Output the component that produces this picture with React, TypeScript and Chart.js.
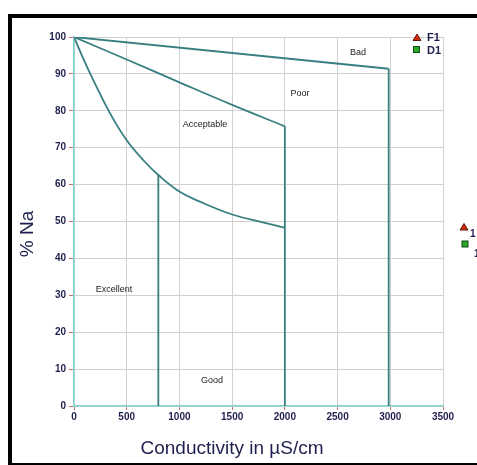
import React, { useEffect, useRef } from "react";
import { Chart, registerables } from "chart.js";

Chart.register(...registerables);

// Boundary curves (conductivity µS/cm vs % Na)
const lowerCurveX = [0, 90, 183, 342, 500, 658, 800, 1000, 1200, 1500, 1800, 2000];
const lowerCurveY = [100, 94, 88.3, 79.3, 72.0, 66.6, 62.6, 58.1, 55.3, 51.9, 49.7, 48.3];
const poorCurveX = [0, 500, 1000, 1500, 2000];
const poorCurveY = [100, 93.9, 87.7, 81.6, 75.8];
const badCurveX = [0, 2985];
const badCurveY = [100, 91.4];
const dividerX = [800, 2000, 2985];
const dividerTop = [62.6, 75.8, 91.4];

const regionNames = ["Bad", "Poor", "Acceptable", "Excellent", "Good"];
const regionX = [2694, 2144, 1243, 380, 1309];
const regionY = [95.9, 84.8, 76.4, 31.7, 6.8];

const legendNames = ["F1", "D1"];

const xTitle = "Conductivity in µS/cm";
const yTitle = "% Na";

const FONT = "'Liberation Sans', Arial, sans-serif";
const NAVY = "#1f1f4f";
const LINE = "#377f80";

function pts(xs: number[], ys: number[]) {
  return xs.map((x, i) => ({ x, y: ys[i] }));
}

const overlay = {
  id: "overlay",
  afterDraw(chart: any) {
    const ctx = chart.ctx;
    const xs = chart.scales.x;
    const ys = chart.scales.y;
    ctx.save();
    // frame
    ctx.fillStyle = "#000";
    ctx.fillRect(8, 14, 469, 4);
    ctx.fillRect(8, 14, 4, 451);
    ctx.fillRect(8, 463, 469, 2);
    // region labels
    ctx.fillStyle = "#1a1a1a";
    ctx.font = `9px ${FONT}`;
    ctx.textAlign = "center";
    ctx.textBaseline = "middle";
    regionNames.forEach((n, i) => {
      ctx.fillText(n, xs.getPixelForValue(regionX[i]), ys.getPixelForValue(regionY[i]));
    });
    // axis titles
    ctx.fillStyle = NAVY;
    ctx.font = `19px ${FONT}`;
    ctx.fillText(xTitle, 232, 449);
    ctx.save();
    ctx.translate(28, 234);
    ctx.rotate(-Math.PI / 2);
    ctx.fillText(yTitle, 0, 0);
    ctx.restore();
    // legend
    const drawTri = (cx: number, cy: number) => {
      ctx.beginPath();
      ctx.moveTo(cx, cy - 3.5);
      ctx.lineTo(cx + 4, cy + 3);
      ctx.lineTo(cx - 4, cy + 3);
      ctx.closePath();
      ctx.fillStyle = "#d42a10";
      ctx.fill();
      ctx.strokeStyle = "#5a1a0a";
      ctx.lineWidth = 1;
      ctx.stroke();
    };
    const drawSq = (cx: number, cy: number) => {
      ctx.fillStyle = "#2aa82a";
      ctx.fillRect(cx - 3, cy - 3, 6, 6);
      ctx.strokeStyle = "#124d12";
      ctx.lineWidth = 1;
      ctx.strokeRect(cx - 3, cy - 3, 6, 6);
    };
    drawTri(417, 37.5);
    drawSq(416.5, 49.5);
    ctx.fillStyle = NAVY;
    ctx.font = `bold 11px ${FONT}`;
    ctx.textAlign = "left";
    ctx.fillText(legendNames[0], 427, 38);
    ctx.fillText(legendNames[1], 427, 50.5);
    drawTri(464, 227);
    drawSq(465, 244);
    ctx.fillStyle = NAVY;
    ctx.font = `bold 10px ${FONT}`;
    ctx.fillText("1", 470, 234);
    ctx.fillText("1", 474, 254);
    ctx.restore();
  },
};

export default function App() {
  const ref = useRef<HTMLCanvasElement>(null);
  useEffect(() => {
    if (!ref.current) return;
    Chart.defaults.font.family = FONT;
    const datasets: any[] = [
      { label: "lower", data: pts(lowerCurveX, lowerCurveY), tension: 0.4 },
      { label: "poor", data: pts(poorCurveX, poorCurveY), tension: 0.4 },
      { label: "bad", data: pts(badCurveX, badCurveY) },
      ...dividerX.map((x, i) => ({ label: "div" + i, data: [{ x, y: dividerTop[i] }, { x, y: 0 }] })),
    ].map((d) => ({
      ...d,
      showLine: true,
      borderColor: LINE,
      borderWidth: 1.8,
      pointRadius: 0,
      fill: false,
    }));
    const chart = new Chart(ref.current, {
      type: "scatter",
      data: { datasets },
      options: {
        animation: false,
        responsive: false,
        layout: { padding: { top: 37, right: 34, left: 0, bottom: 0 } },
        plugins: { legend: { display: false }, tooltip: { enabled: false } },
        scales: {
          x: {
            type: "linear",
            min: 0,
            max: 3500,
            afterFit: (s: any) => { s.height = 59; },
            ticks: {
              stepSize: 500,
              color: NAVY,
              font: { size: 10, weight: "bold" },
              padding: 1,
              maxRotation: 0,
              callback: (v: any) => String(v),
            },
            grid: { color: "#d0d0d0", tickColor: "#c86a6a", tickLength: 4, lineWidth: 1 },
            border: { color: "#7fd3d3", width: 1.5 },
          },
          y: {
            min: 0,
            max: 100,
            afterFit: (s: any) => { s.width = 74; },
            ticks: { stepSize: 10, color: NAVY, font: { size: 10, weight: "bold" }, padding: 3, callback: (v: any) => String(v) },
            grid: { color: "#d0d0d0", tickColor: "#c86a6a", tickLength: 5, lineWidth: 1 },
            border: { color: "#7fd3d3", width: 1.5 },
          },
        },
      } as any,
      plugins: [overlay],
    });
    return () => chart.destroy();
  }, []);
  return (
    <div style={{ position: "fixed", left: 0, top: 0, width: 477, height: 465, background: "#fff" }}>
      <canvas ref={ref} width={477} height={465} style={{ display: "block" }} />
    </div>
  );
}
